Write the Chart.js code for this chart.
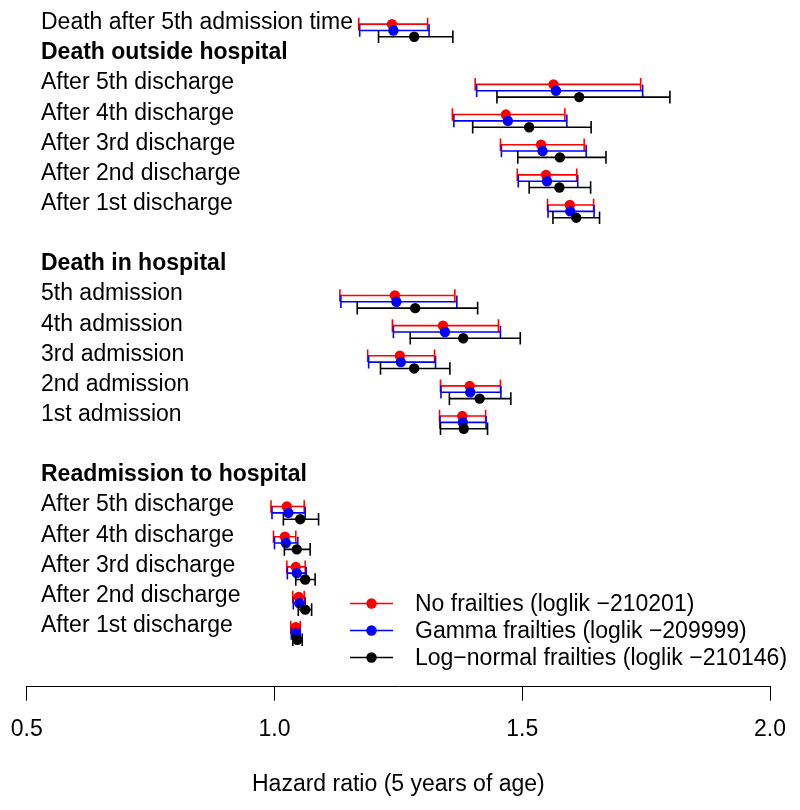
<!DOCTYPE html>
<html><head><meta charset="utf-8">
<script src="https://cdn.jsdelivr.net/npm/chart.js@4.4.0/dist/chart.umd.min.js"></script>
<style>html,body{margin:0;padding:0;background:#fff}#wrap{width:800px;height:810px}</style>
</head><body><div id="wrap"><canvas id="c" width="800" height="810"></canvas></div>
<script>
// ---------- data ----------
const rowLabels = [
  'Death after 5th admission time',
  'Death outside hospital',
  'After 5th discharge', 'After 4th discharge', 'After 3rd discharge', 'After 2nd discharge', 'After 1st discharge',
  '',
  'Death in hospital',
  '5th admission', '4th admission', '3rd admission', '2nd admission', '1st admission',
  '',
  'Readmission to hospital',
  'After 5th discharge', 'After 4th discharge', 'After 3rd discharge', 'After 2nd discharge', 'After 1st discharge'
];
const headingRows = [1, 8, 15];
const dataRows = [0, 2, 3, 4, 5, 6, 9, 10, 11, 12, 13, 16, 17, 18, 19, 20];

const seriesNames = [
  'No frailties (loglik \u2212210201)',
  'Gamma frailties (loglik \u2212209999)',
  'Log\u2212normal frailties (loglik \u2212210146)'
];
const seriesColors = ['#ff0000', '#0000ff', '#000000'];

const noFrailEst = [1.237, 1.563, 1.467, 1.538, 1.548, 1.596, 1.243, 1.340, 1.253, 1.394, 1.379, 1.025, 1.021, 1.043, 1.049, 1.043];
const noFrailLo  = [1.170, 1.405, 1.359, 1.456, 1.490, 1.551, 1.132, 1.238, 1.188, 1.335, 1.333, 0.993, 0.998, 1.025, 1.037, 1.033];
const noFrailHi  = [1.309, 1.739, 1.586, 1.625, 1.610, 1.644, 1.364, 1.452, 1.323, 1.456, 1.426, 1.060, 1.043, 1.062, 1.060, 1.052];

const gammaEst = [1.240, 1.568, 1.471, 1.541, 1.550, 1.597, 1.246, 1.344, 1.255, 1.395, 1.380, 1.028, 1.023, 1.045, 1.050, 1.043];
const gammaLo  = [1.172, 1.408, 1.362, 1.458, 1.492, 1.552, 1.134, 1.240, 1.190, 1.336, 1.334, 0.995, 1.000, 1.026, 1.038, 1.034];
const gammaHi  = [1.312, 1.743, 1.590, 1.629, 1.612, 1.645, 1.368, 1.456, 1.325, 1.457, 1.427, 1.062, 1.047, 1.064, 1.062, 1.052];

const lognEst = [1.282, 1.615, 1.514, 1.576, 1.575, 1.609, 1.284, 1.381, 1.282, 1.414, 1.382, 1.052, 1.045, 1.062, 1.062, 1.046];
const lognLo  = [1.210, 1.449, 1.400, 1.491, 1.514, 1.562, 1.167, 1.274, 1.214, 1.353, 1.335, 1.018, 1.020, 1.043, 1.048, 1.037];
const lognHi  = [1.360, 1.798, 1.639, 1.669, 1.638, 1.656, 1.410, 1.496, 1.354, 1.477, 1.430, 1.089, 1.072, 1.082, 1.075, 1.056];

const xTicks = [0.5, 1.0, 1.5, 2.0];
const xTitle = 'Hazard ratio (5 years of age)';

// ---------- build ----------
const FONT = "'Liberation Sans', Arial, Helvetica, sans-serif";
const FSIZE = 23;
const series = [
  {est: noFrailEst, lo: noFrailLo, hi: noFrailHi, off: 0.08},
  {est: gammaEst, lo: gammaLo, hi: gammaHi, off: 0.29},
  {est: lognEst, lo: lognLo, hi: lognHi, off: 0.50}
];

const datasets = [];
series.forEach((s, si) => {
  const ci = [];
  const pts = [];
  dataRows.forEach((r, i) => {
    const y = r + s.off;
    ci.push({x: s.lo[i], y: y}, {x: s.hi[i], y: y}, {x: null, y: null});
    pts.push({x: s.est[i], y: y});
  });
  datasets.push({
    label: seriesNames[si] + ' CI',
    data: ci,
    showLine: true,
    spanGaps: false,
    borderColor: seriesColors[si],
    borderWidth: 1.6,
    pointStyle: 'line',
    pointRotation: 90,
    pointRadius: 6.3,
    pointBorderWidth: 1.6,
    pointBorderColor: seriesColors[si],
    pointBackgroundColor: seriesColors[si],
    order: 10 - si * 2
  });
  datasets.push({
    label: seriesNames[si],
    data: pts,
    showLine: false,
    pointStyle: 'circle',
    pointRadius: 5.2,
    pointBorderWidth: 0,
    pointBackgroundColor: seriesColors[si],
    borderColor: seriesColors[si],
    order: 9 - si * 2
  });
});

const rowLabelPlugin = {
  id: 'rowLabels',
  beforeDatasetsDraw(chart) {
    const ctx = chart.ctx;
    const ys = chart.scales.y;
    ctx.save();
    ctx.fillStyle = '#000';
    ctx.textAlign = 'left';
    ctx.textBaseline = 'middle';
    rowLabels.forEach((lab, r) => {
      if (!lab) return;
      ctx.font = (headingRows.includes(r) ? 'bold ' : '') + FSIZE + 'px ' + FONT;
      ctx.fillText(lab, 41, ys.getPixelForValue(r) + 1);
    });
    ctx.restore();
  }
};

const legendPlugin = {
  id: 'rLegend',
  afterDraw(chart) {
    const ctx = chart.ctx;
    const ys = [603.5, 630.5, 657.5];
    ctx.save();
    seriesNames.forEach((n, i) => {
      const y = ys[i];
      ctx.strokeStyle = seriesColors[i];
      ctx.lineWidth = 1.6;
      ctx.beginPath(); ctx.moveTo(350, y); ctx.lineTo(393, y); ctx.stroke();
      ctx.fillStyle = seriesColors[i];
      ctx.beginPath(); ctx.arc(371.5, y, 5.2, 0, Math.PI * 2); ctx.fill();
      ctx.fillStyle = '#000';
      ctx.font = FSIZE + 'px ' + FONT;
      ctx.textAlign = 'left';
      ctx.textBaseline = 'middle';
      ctx.fillText(n, 415, y + 1);
    });
    ctx.restore();
  }
};

new Chart(document.getElementById('c'), {
  type: 'scatter',
  data: {datasets},
  plugins: [rowLabelPlugin, legendPlugin],
  options: {
    responsive: false,
    animation: false,
    events: [],
    layout: {autoPadding: false, padding: {left: 26.7, right: 30, top: 0, bottom: 11.2}},
    plugins: {legend: {display: false}, tooltip: {enabled: false}},
    scales: {
      x: {
        type: 'linear',
        min: 0.5, max: 2.0,
        afterBuildTicks: (sc) => { sc.ticks = xTicks.map(v => ({value: v})); },
        ticks: {
          autoSkip: false,
          maxRotation: 0,
          padding: 8,
          color: '#000',
          font: {family: FONT, size: FSIZE, lineHeight: 1.852},
          callback: (v) => Number(v).toFixed(1)
        },
        grid: {display: true, drawOnChartArea: false, drawTicks: true, tickLength: 14, color: '#000', lineWidth: 1},
        border: {display: true, color: '#000', width: 1},
        title: {display: true, text: xTitle, color: '#000', font: {family: FONT, size: FSIZE}, padding: {top: 11.9, bottom: 0}}
      },
      y: {
        type: 'linear',
        display: false,
        reverse: true,
        min: -0.72, max: 22.056
      }
    }
  }
});
</script></body></html>
